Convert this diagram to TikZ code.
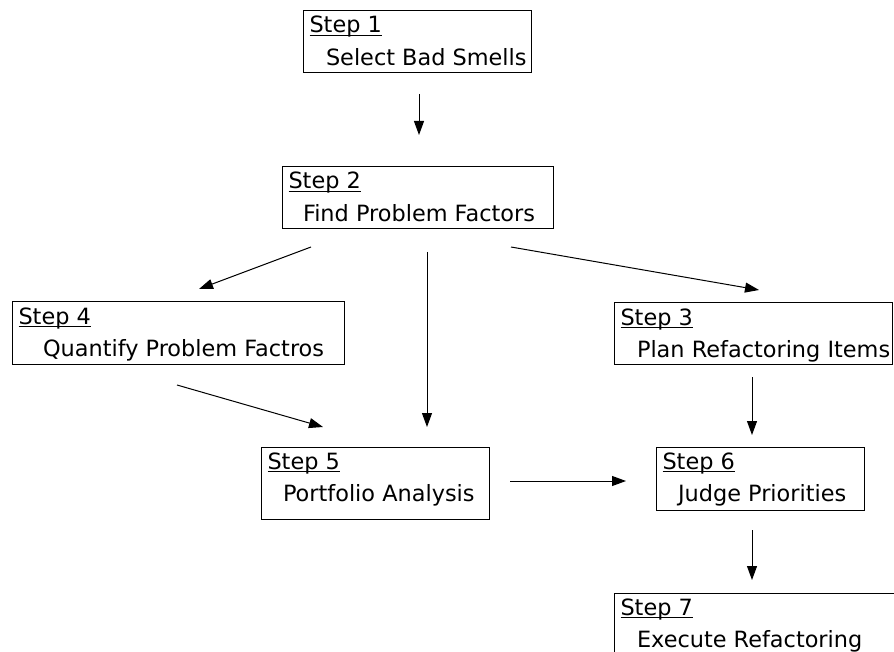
\documentclass[tikz,border=0pt]{standalone}
\usepackage{fontspec}
\setmainfont{DejaVu Sans}
\usetikzlibrary{arrows.meta,calc}

\tikzset{
  box/.style={draw=black, line width=1pt, rectangle, inner sep=0pt, outer sep=0pt},
  lbl/.style={inner sep=0pt, outer sep=0pt, font=\fontsize{22.4}{26}\selectfont},
  link/.style={line width=1pt, -{Triangle[length=14pt,width=10pt]}},
  uline/.style={line width=1.3pt}
}

% #1 name, #2 x, #3 y, #4 width, #5 height, #6 step label, #7 task text, #8 indent
\newcommand{\stepbox}[8]{%
  \node[box, minimum width=#4pt, minimum height=#5pt, anchor=north west] (#1) at (#2,#3) {};
  \node[lbl, anchor=base west] (#1-t) at ($(#1.north west)+(6.5,22)$) {#6};
  \draw[uline] ($(#1-t.base west)+(0,2.5)$) -- ($(#1-t.base east)+(0,2.5)$);
  \node[lbl, anchor=base west] (#1-b) at ($(#1.north west)+(#8,54.5)$) {#7};
}

\begin{document}
\begin{tikzpicture}[x=1pt, y=-1pt]
  \useasboundingbox (0,0) rectangle (894,652);
  \clip (0,0) rectangle (894,652);

  \stepbox{s1}{303}{11}{228}{62}{Step 1}{Select Bad Smells}{23}
  \stepbox{s2}{282}{167}{271}{62}{Step 2}{Find Problem Factors}{21}
  \stepbox{s4}{12}{302}{332}{62}{Step 4}{Quantify Problem Factros}{31}
  \stepbox{s3}{614}{303}{278}{61}{Step 3}{Plan Refactoring Items}{23}
  \stepbox{s5}{261}{447}{228}{72}{Step 5}{Portfolio Analysis}{22}
  \stepbox{s6}{656}{447}{208}{63}{Step 6}{Judge Priorities}{22}
  \stepbox{s7}{614}{593}{320}{80}{Step 7}{Execute Refactoring}{23}

  % free ends of the connectors
  \coordinate (a12s) at ($(s1.south west)+(116,21)$);
  \coordinate (a12e) at ($(s1.south west)+(116,62)$);
  \coordinate (a24s) at (311,247);
  \coordinate (a24e) at (199,289);
  \coordinate (a25s) at (427,252);
  \coordinate (a25e) at (427,427);
  \coordinate (a23s) at (511,247);
  \coordinate (a23e) at (759,290);
  \coordinate (a45s) at (177,385);
  \coordinate (a45e) at (323,427);
  \coordinate (a36s) at (752,377);
  \coordinate (a36e) at (752,435);
  \coordinate (a56s) at (510,481);
  \coordinate (a56e) at (626,481);
  \coordinate (a67s) at (752,530);
  \coordinate (a67e) at (752,580);

  \draw[link] (a12s) -- (a12e);
  \draw[link] (a24s) -- (a24e);
  \draw[link] (a25s) -- (a25e);
  \draw[link] (a23s) -- (a23e);
  \draw[link] (a45s) -- (a45e);
  \draw[link] (a36s) -- (a36e);
  \draw[link] (a56s) -- (a56e);
  \draw[link] (a67s) -- (a67e);
\end{tikzpicture}
\end{document}
